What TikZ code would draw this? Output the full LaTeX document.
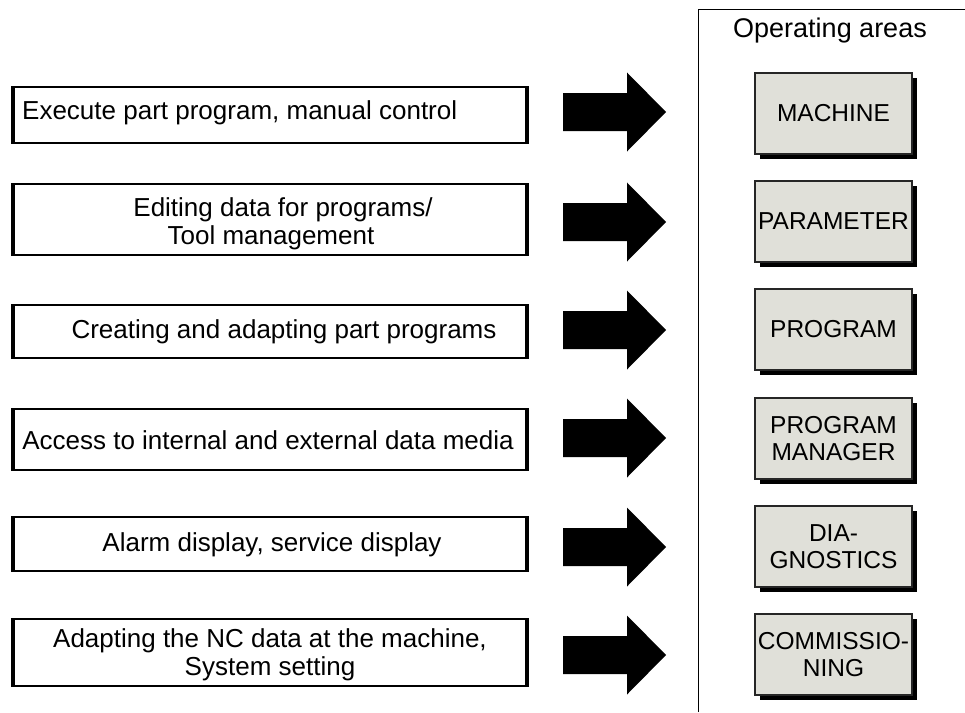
\documentclass[tikz,border=0pt]{standalone}
\usepackage{fontspec}
\setmainfont{Liberation Sans}
\definecolor{areagray}{RGB}{224,224,217}
\begin{document}
\begin{tikzpicture}[x=1pt,y=-1pt,
  lbox/.style={draw=black, line width=1.2pt, minimum width=516pt, inner sep=0pt, fill=white},
  ltext/.style={font=\fontsize{26}{28}\selectfont, inner sep=0pt, align=center},
  abox/.style={draw=black!85, line width=1.2pt, fill=areagray, minimum width=157pt, minimum height=81pt,
    inner sep=0pt, align=center, font=\fontsize{24.5}{27}\selectfont},
  barrow/.pic={\fill[black] (0,-19) -- (64,-19) -- (64,-39.5) -- (103,0) -- (64,39.5) -- (64,19) -- (0,19) -- cycle;}
]
\useasboundingbox (0,0) rectangle (965,712);

% panel
\coordinate (pb) at (698,712);
\coordinate (pl) at (698,9);
\coordinate (pr) at (965,9);
\draw[line width=1pt] (pb) -- (pl) -- (pr);
\node[font=\fontsize{27}{30}\selectfont, inner sep=0pt] (title) at (830,31) {Operating areas};

% left boxes
\foreach \n/\cy/\h in {1/115/56, 2/219.5/71, 3/331.5/53, 4/439.5/61, 5/544/54, 6/652.5/67}{
  \node[lbox, minimum height=\h pt] (l\n) at (270,\cy) {};
  \draw[line width=4.5pt] ([xshift=1.6pt]l\n.north west) -- ([xshift=1.6pt]l\n.south west);
  \draw[line width=4pt] ([xshift=-1.4pt]l\n.north east) -- ([xshift=-1.4pt]l\n.south east);
}
\node[ltext, anchor=west] (t1) at (22,113) {Execute part program, manual control};
\node[ltext] (t2a) at (283,210) {Editing data for programs/};
\node[ltext] (t2b) at (271,238) {Tool management};
\node[ltext] (t3) at (284,332) {Creating and adapting part programs};
\node[ltext] (t4) at (268,440) {Access to internal and external data media};
\node[ltext] (t5) at (272,545) {Alarm display, service display};
\node[ltext] (t6) at (270,655) {Adapting the NC data at the machine,\\System setting};

% arrows
\foreach \cy in {112,222,330,438,547,655}{
  \pic at (563,\cy) {barrow};
}

% operating area boxes
\foreach \n/\cy/\txt in {1/113.5/MACHINE, 2/221.5/PARAMETER, 3/329.5/PROGRAM, 4/438.5/{PROGRAM\\MANAGER}, 5/546.5/{DIA-\\GNOSTICS}, 6/654.5/{COMMISSIO-\\NING}}{
  \fill[black] (838.5,\cy+5) ++(-78.5,-40.5) rectangle ++(157,81);
  \node[abox] (r\n) at (833.5,\cy) {\txt};
}
\end{tikzpicture}
\end{document}
